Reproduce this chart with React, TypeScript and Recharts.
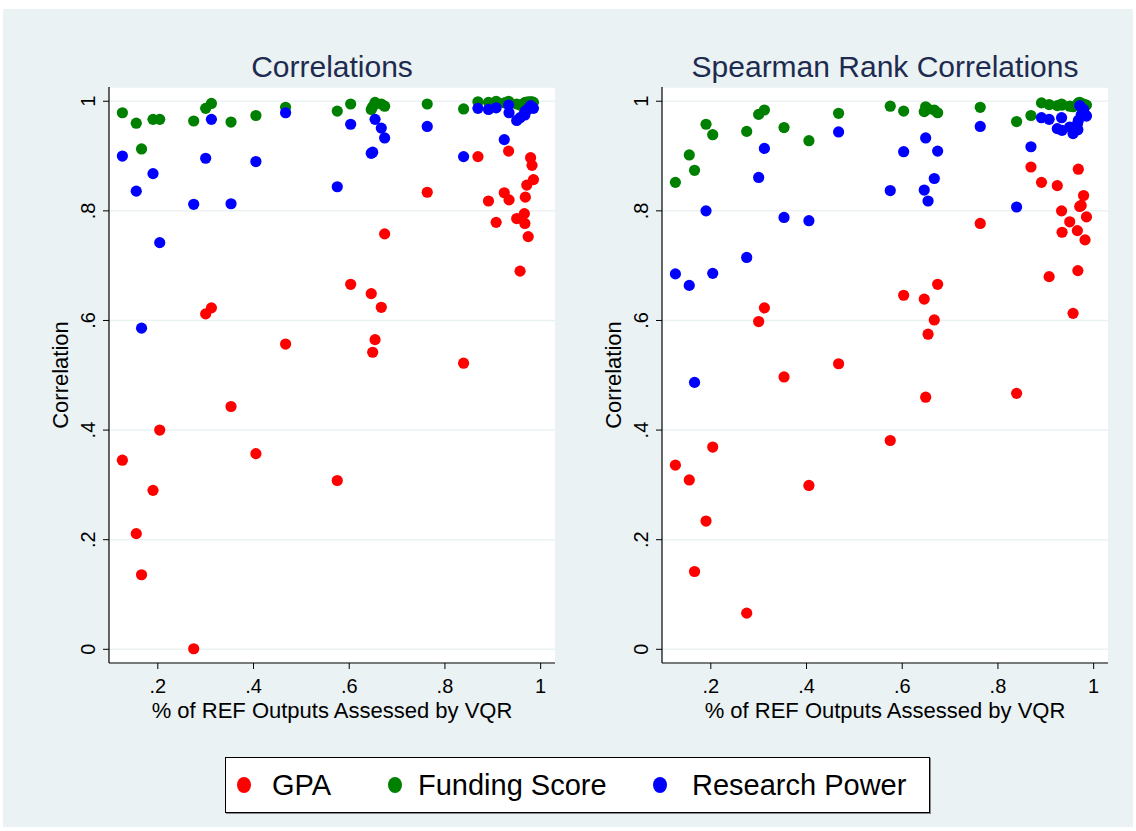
import { ScatterChart, Scatter, XAxis, YAxis, CartesianGrid, Label } from 'recharts';

// share of REF outputs assessed by VQR, one value per unit
const coverage = [
  0.126, 0.155, 0.166, 0.190, 0.204, 0.275, 0.300, 0.312, 0.353, 0.405, 0.467, 0.575,
  0.603, 0.646, 0.649, 0.654, 0.667, 0.674,
  0.763, 0.839,
  0.869, 0.891, 0.907, 0.924, 0.933, 0.934, 0.950, 0.957, 0.966, 0.967, 0.968, 0.971, 0.974, 0.979, 0.982, 0.985,
];

// Pearson correlations
const corrGpa = [
  0.345, 0.211, 0.136, 0.290, 0.400, 0.001, 0.612, 0.623, 0.443, 0.357, 0.557, 0.308,
  0.666, 0.649, 0.542, 0.565, 0.624, 0.758,
  0.834, 0.522,
  0.899, 0.818, 0.779, 0.833, 0.909, 0.820, 0.786, 0.690, 0.795, 0.777, 0.825, 0.847, 0.753, 0.897, 0.883, 0.857,
];
const corrFunding = [
  0.979, 0.960, 0.913, 0.967, 0.967, 0.964, 0.987, 0.996, 0.962, 0.974, 0.989, 0.982,
  0.995, 0.985, 0.990, 0.998, 0.995, 0.991,
  0.995, 0.986,
  0.999, 0.998, 1.000, 0.997, 1.000, 0.998, 0.995, 0.993, 0.996, 0.997, 0.998, 0.998, 0.999, 0.999, 0.999, 0.998,
];
const corrPower = [
  0.900, 0.836, 0.586, 0.868, 0.742, 0.812, 0.896, 0.967, 0.813, 0.890, 0.979, 0.844,
  0.958, 0.905, 0.907, 0.967, 0.951, 0.933,
  0.954, 0.899,
  0.987, 0.985, 0.988, 0.930, 0.993, 0.979, 0.965, 0.970, 0.978, 0.975, 0.982, 0.984, 0.986, 0.992, 0.990, 0.987,
];

// Spearman rank correlations
const rankGpa = [
  0.336, 0.309, 0.142, 0.234, 0.369, 0.066, 0.598, 0.623, 0.497, 0.299, 0.521, 0.381,
  0.646, 0.639, 0.460, 0.575, 0.601, 0.666,
  0.777, 0.467,
  0.880, 0.852, 0.680, 0.846, 0.800, 0.761, 0.780, 0.613, 0.764, 0.691, 0.876, 0.808, 0.810, 0.828, 0.747, 0.789,
];
const rankFunding = [
  0.852, 0.902, 0.874, 0.958, 0.939, 0.945, 0.976, 0.984, 0.952, 0.928, 0.978, 0.991,
  0.982, 0.981, 0.990, 0.986, 0.984, 0.979,
  0.989, 0.963,
  0.974, 0.997, 0.994, 0.992, 0.995, 0.993, 0.991, 0.990, 0.993, 0.995, 0.997, 0.998, 0.996, 0.995, 0.993, 0.993,
];
const rankPower = [
  0.685, 0.664, 0.487, 0.800, 0.686, 0.715, 0.861, 0.914, 0.788, 0.782, 0.944, 0.837,
  0.908, 0.838, 0.933, 0.818, 0.859, 0.909,
  0.954, 0.807,
  0.917, 0.970, 0.967, 0.950, 0.970, 0.947, 0.953, 0.941, 0.958, 0.948, 0.965, 0.992, 0.975, 0.985, 0.976, 0.973,
];

const xTicks = [0.2, 0.4, 0.6, 0.8, 1];
const yTicks = [0, 0.2, 0.4, 0.6, 0.8, 1];

const seriesNames = ['GPA', 'Funding Score', 'Research Power'];
const seriesColors = ['#ff0000', '#008000', '#0000ff'];

const FONT = '"Liberation Sans", Arial, Helvetica, sans-serif';
const BG = '#eaf2f3';

const CHART_W = 570;
const CHART_H = 740;
const Y_AXIS_W = 109;
const TOP = 87;
const X_AXIS_H = 60;
const PLOT_W = 446;
const PLOT_H = 576;

const fmt = (v: number) => (v === 0 ? '0' : v === 1 ? '1' : String(v).replace('0.', '.'));

const toRows = (ys: number[]) => ys.map((y, i) => ({ x: coverage[i], y }));

const XTick = (p: any) => (
  <text x={p.x} y={p.y + 22} textAnchor="middle" fontSize={20} fontFamily={FONT} fill="#000">
    {fmt(p.payload.value)}
  </text>
);

const YTick = (p: any) => {
  const bx = p.x - 6;
  return (
    <text
      x={bx}
      y={p.y}
      transform={`rotate(-90 ${bx} ${p.y})`}
      textAnchor="middle"
      fontSize={20}
      fontFamily={FONT}
      fill="#000"
    >
      {fmt(p.payload.value)}
    </text>
  );
};

function Panel({ left, series }: { left: number; series: number[][] }) {
  return (
    <div style={{ position: 'absolute', left, top: 0 }}>
      <ScatterChart
        width={CHART_W}
        height={CHART_H}
        margin={{ top: TOP, right: CHART_W - Y_AXIS_W - PLOT_W, bottom: CHART_H - TOP - PLOT_H - X_AXIS_H, left: 0 }}
      >
        <CartesianGrid vertical={false} stroke={BG} strokeWidth={1.5} fill="#ffffff" fillOpacity={1} />
        <XAxis
          type="number"
          dataKey="x"
          domain={[0.098, 1.03]}
          ticks={xTicks}
          allowDataOverflow
          height={X_AXIS_H}
          axisLine={{ stroke: '#000', strokeWidth: 1.2 }}
          tickLine={{ stroke: '#000' }}
          tickSize={6}
          tick={<XTick />}
        >
          <Label
            content={() => (
              <text
                x={Y_AXIS_W + PLOT_W / 2}
                y={TOP + PLOT_H + 55}
                textAnchor="middle"
                fontSize={22}
                fontFamily={FONT}
                fill="#000"
              >
                % of REF Outputs Assessed by VQR
              </text>
            )}
          />
        </XAxis>
        <YAxis
          type="number"
          dataKey="y"
          domain={[-0.025, 1.026]}
          ticks={yTicks}
          allowDataOverflow
          width={Y_AXIS_W}
          axisLine={{ stroke: '#000', strokeWidth: 1.2 }}
          tickLine={{ stroke: '#000' }}
          tickSize={6}
          tick={<YTick />}
        >
          <Label
            content={() => {
              const cx = 68;
              const cy = TOP + PLOT_H / 2;
              return (
                <text
                  x={cx}
                  y={cy}
                  transform={`rotate(-90 ${cx} ${cy})`}
                  textAnchor="middle"
                  fontSize={22}
                  fontFamily={FONT}
                  fill="#000"
                >
                  Correlation
                </text>
              );
            }}
          />
        </YAxis>
        {series.map((ys, i) => (
          <Scatter
            key={seriesNames[i]}
            name={seriesNames[i]}
            data={toRows(ys)}
            isAnimationActive={false}
            shape={(s: any) => <circle cx={s.cx} cy={s.cy} r={5.6} fill={seriesColors[i]} />}
          />
        ))}
      </ScatterChart>
    </div>
  );
}

const titleStyle = (center: number): React.CSSProperties => ({
  position: 'absolute',
  left: center - 250,
  width: 500,
  top: 52,
  textAlign: 'center',
  fontFamily: FONT,
  fontSize: 30,
  lineHeight: '30px',
  color: '#1e2b50',
  whiteSpace: 'nowrap',
});

const legendItems = [
  { dot: 244, text: 272 },
  { dot: 395, text: 418 },
  { dot: 660, text: 692 },
];

export default function App() {
  return (
    <div style={{ position: 'absolute', left: 0, top: 0, width: 1136, height: 831, background: '#fff', overflow: 'hidden' }}>
      <div style={{ position: 'absolute', left: 3, top: 9, width: 1130, height: 818, background: BG }} />
      <div style={titleStyle(332)}>Correlations</div>
      <div style={titleStyle(885)}>Spearman Rank Correlations</div>
      <Panel left={0} series={[corrGpa, corrFunding, corrPower]} />
      <Panel left={553} series={[rankGpa, rankFunding, rankPower]} />
      <div
        style={{
          position: 'absolute',
          left: 225,
          top: 757,
          width: 703,
          height: 54,
          background: '#fff',
          border: '1px solid #000',
          boxShadow: '1px 1px 0 #888',
        }}
      />
      {legendItems.map((it, i) => (
        <div key={seriesNames[i]}>
          <div
            style={{
              position: 'absolute',
              left: it.dot - 7,
              top: 777,
              width: 14,
              height: 16,
              borderRadius: '50%',
              background: seriesColors[i],
            }}
          />
          <div
            style={{
              position: 'absolute',
              left: it.text,
              top: 769,
              fontFamily: FONT,
              fontSize: 29,
              lineHeight: '32px',
              color: '#000',
              whiteSpace: 'nowrap',
            }}
          >
            {seriesNames[i]}
          </div>
        </div>
      ))}
    </div>
  );
}
